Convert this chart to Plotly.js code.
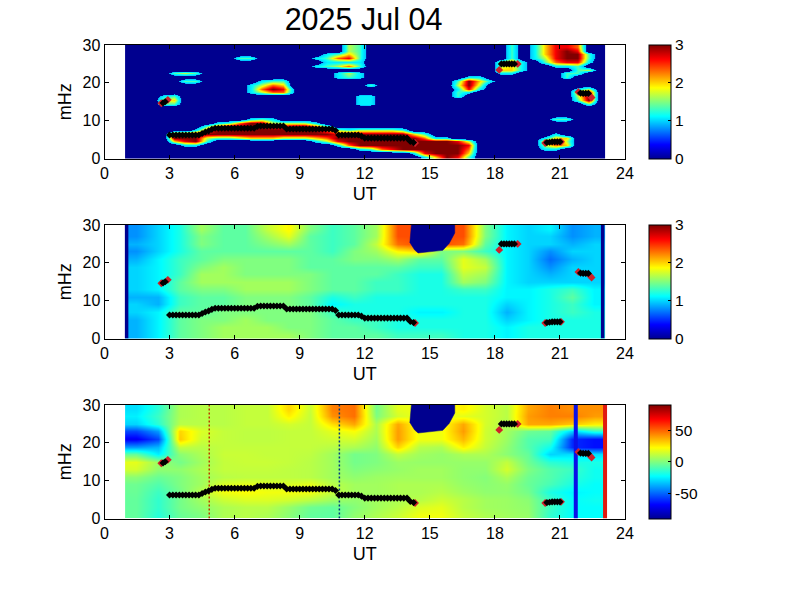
<!DOCTYPE html>
<html><head><meta charset="utf-8">
<script src="https://cdn.plot.ly/plotly-3.0.1.min.js"></script>
<style>html,body{margin:0;padding:0;background:#fff}</style></head>
<body><div id="chart" style="width:801px;height:600px"></div>
<script>
const titleText = "2025 Jul 04";
const xTicks = [0,3,6,9,12,15,18,21,24];
const yTicks = [0,10,20,30];

// Panel 1: power ratio, one digit per cell (digit/3 = value), top row is y=29.5, 44 cells across 0.95..23.06
const p1Rows = [
"0000 0000 0000 0000 0000 5400 0000 0000 0004 0368 8700",
"0000 0000 0000 0000 0000 5400 0000 0000 0004 0368 9800",
"0000 0000 0000 0000 0034 6400 0000 0000 0004 0368 9940",
"0000 0000 0044 0000 0347 8400 0000 0000 0004 0358 9940",
"0000 0000 0000 0000 0033 3300 0000 0000 0057 3047 8830",
"0000 0000 0000 0000 0345 7400 0000 0000 0056 3003 3400",
"0000 0000 0000 0000 0000 0000 0000 0000 0066 3000 0450",
"0000 4540 0000 0000 0003 5300 0000 0000 0033 0000 4400",
"0000 0000 0000 0000 0003 4300 0000 0003 3000 0000 4000",
"0000 0440 0000 3440 0000 0000 0000 0049 6300 0000 0000",
"0000 0000 0003 5760 0000 0040 0000 0059 5000 0000 0000",
"0000 0000 0003 7982 0000 0000 0000 0038 3000 0000 0350",
"0000 0000 0003 5772 0000 0000 0000 0043 0000 0000 0690",
"0003 4000 0000 0000 0000 0330 0000 0040 0000 0000 0590",
"0005 6000 0000 0000 0000 0330 0000 0000 0000 0000 0490",
"0004 4000 0000 0000 0000 0330 0000 0000 0000 0000 0040",
"0000 0000 0000 0000 0000 0000 0000 0000 0000 0000 0000",
"0000 0000 0000 0000 0000 0000 0000 0000 0000 0000 0000",
"0000 0000 0000 0000 0000 0000 0000 0000 0000 0000 0000",
"0000 0000 0003 4300 0000 0000 0000 0000 0000 0004 4000",
"0000 0000 3479 9555 5300 0000 0000 0000 0000 0000 0000",
"0000 0004 7999 9889 9740 0000 0000 0000 0000 0000 0000",
"0000 0037 9999 9999 9975 4555 5400 0000 0000 0000 0000",
"0000 9999 9999 9999 9998 9999 9964 0000 0000 0003 0000",
"0000 9995 4456 6655 5679 9999 9997 3300 0000 0036 6000",
"0000 6894 0000 0000 0358 9999 9999 9985 0000 0069 5000",
"0000 0330 0000 0000 0003 7999 9999 9998 0000 0057 6000",
"0000 0000 0000 0000 0000 0347 8999 9997 0000 0033 0000",
"0000 0000 0000 0000 0000 0000 0038 9996 0000 0000 0000",
"0000 0000 0000 0000 0000 0000 0003 6984 0000 0000 0000"
];
// Panel 2: values x10, top row y=29, 22 cells across 0.95..23.06
const p2Rows = [
[8,10,12,16,14,14,17,19,15,13,14,16,24,24,24,24,15,11,10,11,8,9],
[8,10,12,15,14,14,16,18,14,13,14,16,24,24,24,24,15,11,10,10,8,9],
[9,10,12,15,14,14,15,16,14,13,14,17,23,24,24,23,14,11,10,10,9,10],
[8,10,12,14,14,14,14,14,14,13,15,16,19,20,15,15,13,11,10,8,10,10],
[9,11,13,14,15,15,15,15,14,14,15,15,16,14,14,18,16,11,10,7,9,10],
[10,11,13,15,16,15,15,15,14,14,14,14,14,13,13,18,17,11,10,8,10,10],
[10,11,13,16,16,15,15,15,15,14,14,14,13,12,12,17,16,11,10,9,10,10],
[10,11,14,16,16,16,16,16,15,14,14,13,13,12,12,16,15,11,10,10,10,10],
[10,11,14,15,15,16,16,16,15,14,14,13,13,12,12,13,13,11,11,12,13,11],
[9,9,13,14,14,15,15,15,14,12,13,12,12,12,12,12,12,11,11,12,14,11],
[10,9,13,14,14,15,15,15,14,11,12,12,12,12,12,12,12,10,11,12,13,11],
[10,11,14,14,15,15,15,15,15,13,12,12,12,11,11,12,12,9,11,12,13,12],
[9,11,14,15,15,16,15,15,15,14,13,13,12,12,12,12,12,10,11,12,12,12],
[9,11,14,15,16,16,16,15,15,14,14,13,12,12,12,12,12,11,12,12,12,12],
[9,11,14,15,16,16,16,16,15,14,14,14,13,13,13,12,12,11,12,12,12,12]
];
// Panel 3: values, top row y=29, 22 cells across 0.95..23.06
const p3Rows = [
[-28,-15,8,10,10,12,12,30,13,45,48,-2,18,20,20,25,15,10,38,45,42,42],
[-25,-12,8,10,10,12,12,25,12,42,48,0,15,20,20,18,15,10,40,45,45,40],
[-30,-15,10,10,10,12,12,15,12,28,38,8,38,20,20,38,15,8,38,38,32,25],
[-55,-40,30,16,12,11,11,12,12,18,22,8,40,20,20,40,14,6,-3,-5,-30,-15],
[-70,-55,32,14,12,11,11,12,12,14,15,6,40,20,20,35,14,5,-8,-10,-60,-65],
[-40,-35,12,10,12,12,12,12,12,10,8,3,30,10,8,25,12,3,-8,-20,-60,-65],
[-5,-25,2,8,13,13,12,12,11,6,-2,0,12,6,4,8,8,2,-5,-30,-28,-28],
[18,5,-2,6,12,13,13,12,10,6,-2,0,5,4,4,4,4,12,-3,-15,-18,-18],
[15,3,3,8,12,12,12,11,10,6,0,2,4,6,6,3,3,15,0,-8,-12,-20],
[2,-4,0,6,10,11,11,11,10,6,3,5,6,6,6,3,1,8,-3,-8,-15,-20],
[-3,-8,0,6,16,18,16,16,18,10,6,6,8,8,8,4,2,4,-4,-10,-18,-22],
[-4,-12,-2,10,20,22,20,20,20,12,6,6,8,8,10,6,3,3,-2,-18,-24,-22],
[-5,-14,-2,6,13,16,16,14,10,5,3,6,8,10,14,10,6,5,2,-12,-22,-20],
[-5,-14,-2,3,8,10,10,4,-3,-5,1,6,10,16,18,10,6,5,3,-12,-22,-22],
[-5,-16,-4,0,8,10,8,2,-5,-6,3,8,13,20,20,12,8,6,4,-14,-22,-22]
];
const fineY = [29.5,28.5,27.5,26.5,25.5,24.5,23.5,22.5,21.5,20.5,19.5,18.5,17.5,16.5,15.5,14.5,13.5,12.5,11.5,10.5,9.5,8.5,7.5,6.5,5.5,4.5,3.5,2.5,1.5,0.5];
const coarseY = [29,27,25,23,21,19,17,15,13,11,9,7,5,3,1];

// Tracked frequency (black beads)
const ridgeX = [3,3.15,3.3,3.45,3.6,3.75,3.9,4.05,4.2,4.35,4.5,4.65,4.8,4.95,5.1,5.25,5.4,5.55,5.7,5.85,6,6.15,6.3,6.45,6.6,6.75,6.9,7.05,7.2,7.35,7.5,7.65,7.8,7.95,8.1,8.25,8.4,8.55,8.7,8.85,9,9.15,9.3,9.45,9.6,9.75,9.9,10.05,10.2,10.35,10.5,10.65,10.8,10.95,11.1,11.25,11.4,11.55,11.7,11.85,12,12.15,12.3,12.45,12.6,12.75,12.9,13.05,13.2,13.35,13.5,13.65,13.8,13.95,14.1,14.25];
const ridgeY = [6.2,6.2,6.2,6.2,6.2,6.2,6.2,6.2,6.2,6.2,6.6,7,7.3,7.7,8,8,8,8,8,8,8,8,8,8,8,8,8,8.5,8.6,8.6,8.6,8.6,8.6,8.6,8.6,8.6,7.8,7.8,7.8,7.8,7.8,7.8,7.8,7.8,7.8,7.8,7.8,7.8,7.8,7.8,7.8,7.4,6.2,6.2,6.2,6.2,6.2,6.2,6.2,5.9,5.4,5.4,5.4,5.4,5.4,5.4,5.4,5.4,5.4,5.4,5.4,5.4,5.4,5.4,4.5,4.2];
const clusterX = [2.7,2.8,18.3,18.42,18.54,18.66,18.78,18.9,20.4,20.52,20.64,20.76,20.88,21,21.95,22.07,22.19,22.31];
const clusterY = [14.7,15,25,25,25,25,25,25,4.2,4.3,4.4,4.4,4.4,4.4,17.3,17.2,17.2,17.2];
const redX = [2.62,2.92,14.32,18.2,19.05,20.32,21.05,21.85,22.38,22.46];
const redY = [14.6,15.5,4.1,23.4,25,4.1,4.4,17.6,16.6,16.1];

// Data gap (navy region in panels 2 and 3)
const gapX = [14.15,14.08,14.3,14.46,15.6,15.9,16.15,16.15];
const gapY = [30,25.4,23.4,22.6,23.3,25.2,27.9,30];
const edgeLowX = [1.02,1.02], edgeHighX = [22.97,22.97], spanY = [0,30];
const startX = [4.83,4.83], stopX = [10.83,10.83], blueX = [21.73,21.73], redLineX = [23.08,23.08];

const jet = [[0,"#00008f"],[0.125,"#0000ff"],[0.375,"#00ffff"],[0.625,"#ffff00"],[0.875,"#ff0000"],[1,"#800000"]];
const jetCut = [[0,"#00008f"],[0.22,"#00008f"],[0.2201,"#00c8ff"],[0.375,"#00ffff"],[0.625,"#ffff00"],[0.875,"#ff0000"],[1,"#800000"]];
const font = "Liberation Sans, Arial, sans-serif";
const W=801,H=600,L=104.5,R=625;
const tops=[45,225,405], hgt=113.5;

const p1Z = p1Rows.map(r=>r.replace(/ /g,"").split("").map(d=>+d/3));
const p2Z = p2Rows.map(r=>r.map(v=>v/10));

function bar(i,vals,texts){
  return {x:649/W,xanchor:"left",y:1-(tops[i]+hgt/2)/H,yanchor:"middle",yref:"paper",xref:"paper",
    thicknessmode:"pixels",thickness:22,lenmode:"pixels",len:hgt,xpad:0,ypad:0,
    outlinecolor:"#000",outlinewidth:1,ticks:"inside",ticklen:3,tickcolor:"#000",
    tickmode:"array",tickvals:vals,ticktext:texts,tickfont:{family:font,size:15.5,color:"#000"}};
}
const traces=[
 {type:"heatmap",x0:1.2,dx:0.5025,y:fineY,z:p1Z,zmin:0,zmax:3,zsmooth:"best",colorscale:jetCut,showscale:false,xaxis:"x",yaxis:"y"},
 {type:"scatter",mode:"markers",x:[0,0],y:[-50,-50],xaxis:"x",yaxis:"y",showlegend:false,
  marker:{color:[0,3],cmin:0,cmax:3,colorscale:jet,showscale:true,size:1,colorbar:bar(0,[0,1,2,3],["0","1","2","3"])}},
 {type:"heatmap",x0:1.4525,dx:1.005,y:coarseY,z:p2Z,zmin:0,zmax:3,zsmooth:"best",colorscale:jet,xaxis:"x2",yaxis:"y2",colorbar:bar(1,[0,1,2,3],["0","1","2","3"])},
 {type:"heatmap",x0:1.4525,dx:1.005,y:coarseY,z:p3Rows,zmin:-90,zmax:90,zsmooth:"best",colorscale:jet,xaxis:"x3",yaxis:"y3",colorbar:bar(2,[-50,0,50],["-50","0","50"])}
];
function line(x,y,c,w,dash,n){traces.push({type:"scatter",mode:"lines",x:x,y:y,xaxis:"x"+n,yaxis:"y"+n,showlegend:false,line:{color:c,width:w,dash:dash||"solid"}});}
[2,3].forEach(n=>{
  traces.push({type:"scatter",mode:"lines",x:gapX,y:gapY,fill:"toself",fillcolor:"#00008f",line:{color:"#00008f",width:0.5},xaxis:"x"+n,yaxis:"y"+n,showlegend:false});
});
line(edgeLowX,spanY,"#00008f",3.5,null,2);
line(edgeHighX,spanY,"#00008f",3.5,null,2);
line(startX,spanY,"#b83c00",1.5,"2px,2px",3);
line(stopX,spanY,"#003a80",1.5,"2px,2px",3);
line(blueX,spanY,"#0a10e8",4,null,3);
line(redLineX,spanY,"#e01a10",4,null,3);
["","2","3"].forEach(n=>{
  traces.push({type:"scatter",mode:"markers",x:redX,y:redY,xaxis:"x"+n,yaxis:"y"+n,showlegend:false,marker:{symbol:"diamond",size:6,color:"#d0202a"}});
  traces.push({type:"scatter",mode:"markers",x:ridgeX.concat(clusterX),y:ridgeY.concat(clusterY),xaxis:"x"+n,yaxis:"y"+n,showlegend:false,marker:{symbol:"diamond",size:5.5,color:"#000"}});
});
const layout={width:W,height:H,margin:{l:0,r:0,t:0,b:0},paper_bgcolor:"#fff",plot_bgcolor:"#fff",showlegend:false,
  title:{text:titleText,font:{family:font,size:30.5,color:"#000"},x:363.5/W,xanchor:"center",xref:"paper",y:1-19/H,yanchor:"middle",yref:"paper"}};
tops.forEach((t,i)=>{
  const n=i?String(i+1):"";
  layout["xaxis"+n]={domain:[L/W,R/W],range:[0,24],anchor:"y"+n,tickmode:"array",tickvals:xTicks,ticktext:xTicks.map(String),
    ticks:"inside",ticklen:4,tickcolor:"#000",showline:true,linecolor:"#000",linewidth:1,mirror:"ticks",showgrid:false,zeroline:false,
    tickfont:{family:font,size:16,color:"#000"},title:{text:"UT",font:{family:font,size:18,color:"#000"},standoff:6}};
  layout["yaxis"+n]={domain:[1-(t+hgt)/H,1-t/H],range:[0,30],anchor:"x"+n,tickmode:"array",tickvals:yTicks,ticktext:yTicks.map(String),
    ticks:"inside",ticklen:4,tickcolor:"#000",showline:true,linecolor:"#000",linewidth:1,mirror:"ticks",showgrid:false,zeroline:false,
    tickfont:{family:font,size:16,color:"#000"},title:{text:"mHz",font:{family:font,size:18,color:"#000"},standoff:6}};
});
Plotly.newPlot("chart",traces,layout,{displayModeBar:false,staticPlot:true});
</script></body></html>
